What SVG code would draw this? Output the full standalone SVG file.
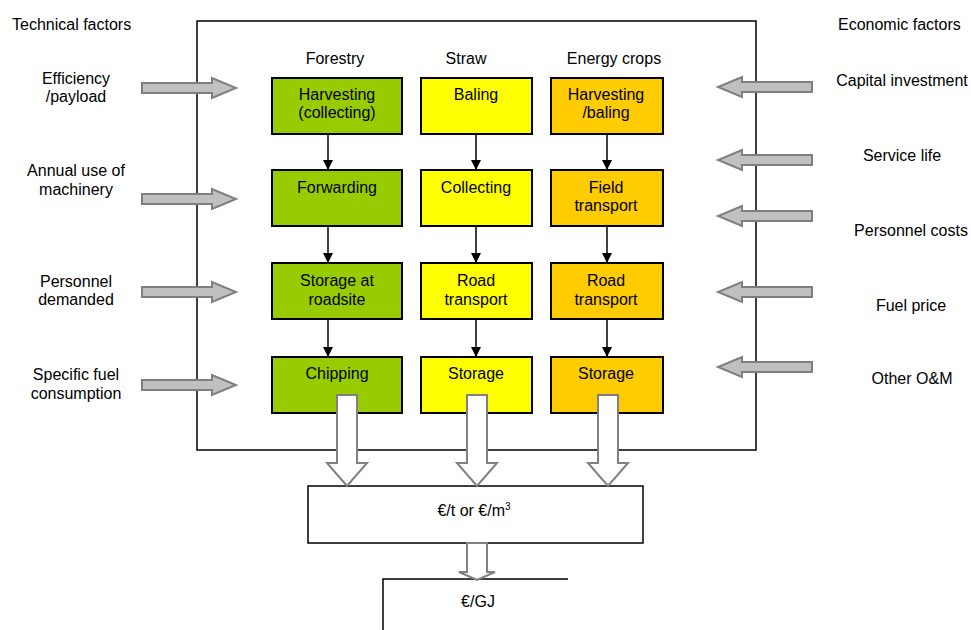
<svg xmlns="http://www.w3.org/2000/svg" width="971" height="630" viewBox="0 0 971 630">
<style>
text{font-family:"Liberation Sans",Arial,sans-serif;font-size:16px;fill:#000}
.c{text-anchor:middle}
.box{stroke:#000;stroke-width:2}
.g{fill:#99cc00}.y{fill:#ffff00}.o{fill:#ffcc00}
.ga{fill:#c0c0c0;stroke:#7f7f7f;stroke-width:2}
.ha{fill:#fff;stroke:#808080;stroke-width:2}
.ln{stroke:#000;stroke-width:1.5;fill:none}
</style>
<defs>
<marker id="ah" markerWidth="10" markerHeight="10" refX="10" refY="5" orient="auto" markerUnits="userSpaceOnUse" viewBox="0 0 10 10">
<path d="M0,0 L10,5 L0,10 Z" fill="#000"/>
</marker>
</defs>
<rect width="971" height="630" fill="#fff"/>
<g id="frame"><rect x="197" y="21" width="559" height="429" fill="none" stroke="#000" stroke-width="1.5"/></g>
<g id="headers">
<text class="c" x="335" y="64">Forestry</text>
<text class="c" x="466" y="64">Straw</text>
<text class="c" x="614" y="64">Energy crops</text>
<text x="12" y="30">Technical factors</text>
<text x="838" y="30">Economic factors</text>
</g>
<g id="n_f1"><rect class="box g" x="272" y="78" width="130" height="56"/><text class="c" x="337" y="100">Harvesting</text><text class="c" x="337" y="118">(collecting)</text></g>
<g id="n_f2"><rect class="box g" x="272" y="170" width="130" height="56"/><text class="c" x="337" y="193">Forwarding</text></g>
<g id="n_f3"><rect class="box g" x="272" y="263" width="130" height="56"/><text class="c" x="337" y="286">Storage at</text><text class="c" x="337" y="305">roadsite</text></g>
<g id="n_f4"><rect class="box g" x="272" y="357" width="130" height="56"/><text class="c" x="337" y="379">Chipping</text></g>
<g id="n_s1"><rect class="box y" x="421" y="78" width="111" height="56"/><text class="c" x="476" y="100">Baling</text></g>
<g id="n_s2"><rect class="box y" x="421" y="170" width="111" height="56"/><text class="c" x="476" y="193">Collecting</text></g>
<g id="n_s3"><rect class="box y" x="421" y="263" width="111" height="56"/><text class="c" x="476" y="286">Road</text><text class="c" x="476" y="305">transport</text></g>
<g id="n_s4"><rect class="box y" x="421" y="357" width="111" height="56"/><text class="c" x="476" y="379">Storage</text></g>
<g id="n_e1"><rect class="box o" x="551" y="78" width="112" height="56"/><text class="c" x="606" y="100">Harvesting</text><text class="c" x="606" y="118">/baling</text></g>
<g id="n_e2"><rect class="box o" x="551" y="170" width="112" height="56"/><text class="c" x="606" y="193">Field</text><text class="c" x="606" y="211">transport</text></g>
<g id="n_e3"><rect class="box o" x="551" y="263" width="112" height="56"/><text class="c" x="606" y="286">Road</text><text class="c" x="606" y="305">transport</text></g>
<g id="n_e4"><rect class="box o" x="551" y="357" width="112" height="56"/><text class="c" x="606" y="379">Storage</text></g>
<g id="n_cost"><rect x="308" y="486" width="335" height="57" fill="#fff" stroke="#000" stroke-width="1.5"/><text class="c" x="474" y="516" font-size="14">€/t or €/m<tspan dy="-6" font-size="10">3</tspan></text></g>
<g id="n_gj"><path d="M383,630 V579 H568" fill="none" stroke="#000" stroke-width="1.5"/><text class="c" x="478" y="607" font-size="14">€/GJ</text></g>
<g id="labels_left">
<text class="c" x="76" y="84">Efficiency</text><text class="c" x="76" y="102">/payload</text>
<text class="c" x="76" y="176">Annual use of</text><text class="c" x="76" y="195">machinery</text>
<text class="c" x="76" y="287">Personnel</text><text class="c" x="76" y="305">demanded</text>
<text class="c" x="76" y="380">Specific fuel</text><text class="c" x="76" y="399">consumption</text>
</g>
<g id="labels_right">
<text class="c" x="902" y="86">Capital investment</text>
<text class="c" x="902" y="161">Service life</text>
<text class="c" x="911" y="236">Personnel costs</text>
<text class="c" x="911" y="311">Fuel price</text>
<text class="c" x="912" y="384">Other O&amp;M</text>
</g>
<g id="connectors">
<line class="ln" x1="328" y1="134" x2="328" y2="170" marker-end="url(#ah)"/>
<line class="ln" x1="328" y1="226" x2="328" y2="263" marker-end="url(#ah)"/>
<line class="ln" x1="328" y1="319" x2="328" y2="357" marker-end="url(#ah)"/>
<line class="ln" x1="476" y1="134" x2="476" y2="170" marker-end="url(#ah)"/>
<line class="ln" x1="476" y1="226" x2="476" y2="263" marker-end="url(#ah)"/>
<line class="ln" x1="476" y1="319" x2="476" y2="357" marker-end="url(#ah)"/>
<line class="ln" x1="607" y1="134" x2="607" y2="170" marker-end="url(#ah)"/>
<line class="ln" x1="607" y1="226" x2="607" y2="263" marker-end="url(#ah)"/>
<line class="ln" x1="607" y1="319" x2="607" y2="357" marker-end="url(#ah)"/>
<path class="ha" d="M337,395 V463 H327 L347,486 L367,463 H357 V395 Z"/>
<path class="ha" d="M467,395 V463 H457 L477,486 L497,463 H487 V395 Z"/>
<path class="ha" d="M598,395 V463 H588 L608,486 L628,463 H618 V395 Z"/>
<path class="ha" d="M467,543 V572 H459 L477,580 L495,572 H487 V543 Z"/>
<path class="ga" d="M142,83 H212 V78 L236,88 L212,98 V93 H142 Z"/>
<path class="ga" d="M142,194 H212 V189 L236,199 L212,209 V204 H142 Z"/>
<path class="ga" d="M142,287 H212 V282 L236,292 L212,302 V297 H142 Z"/>
<path class="ga" d="M142,380 H212 V375 L236,385 L212,395 V390 H142 Z"/>
<path class="ga" d="M812,82 H742 V77 L718,87 L742,97 V92 H812 Z"/>
<path class="ga" d="M812,155 H742 V150 L718,160 L742,170 V165 H812 Z"/>
<path class="ga" d="M812,211 H742 V206 L718,216 L742,226 V221 H812 Z"/>
<path class="ga" d="M812,287 H742 V282 L718,292 L742,302 V297 H812 Z"/>
<path class="ga" d="M812,362 H742 V357 L718,367 L742,377 V372 H812 Z"/>
</g>
</svg>
